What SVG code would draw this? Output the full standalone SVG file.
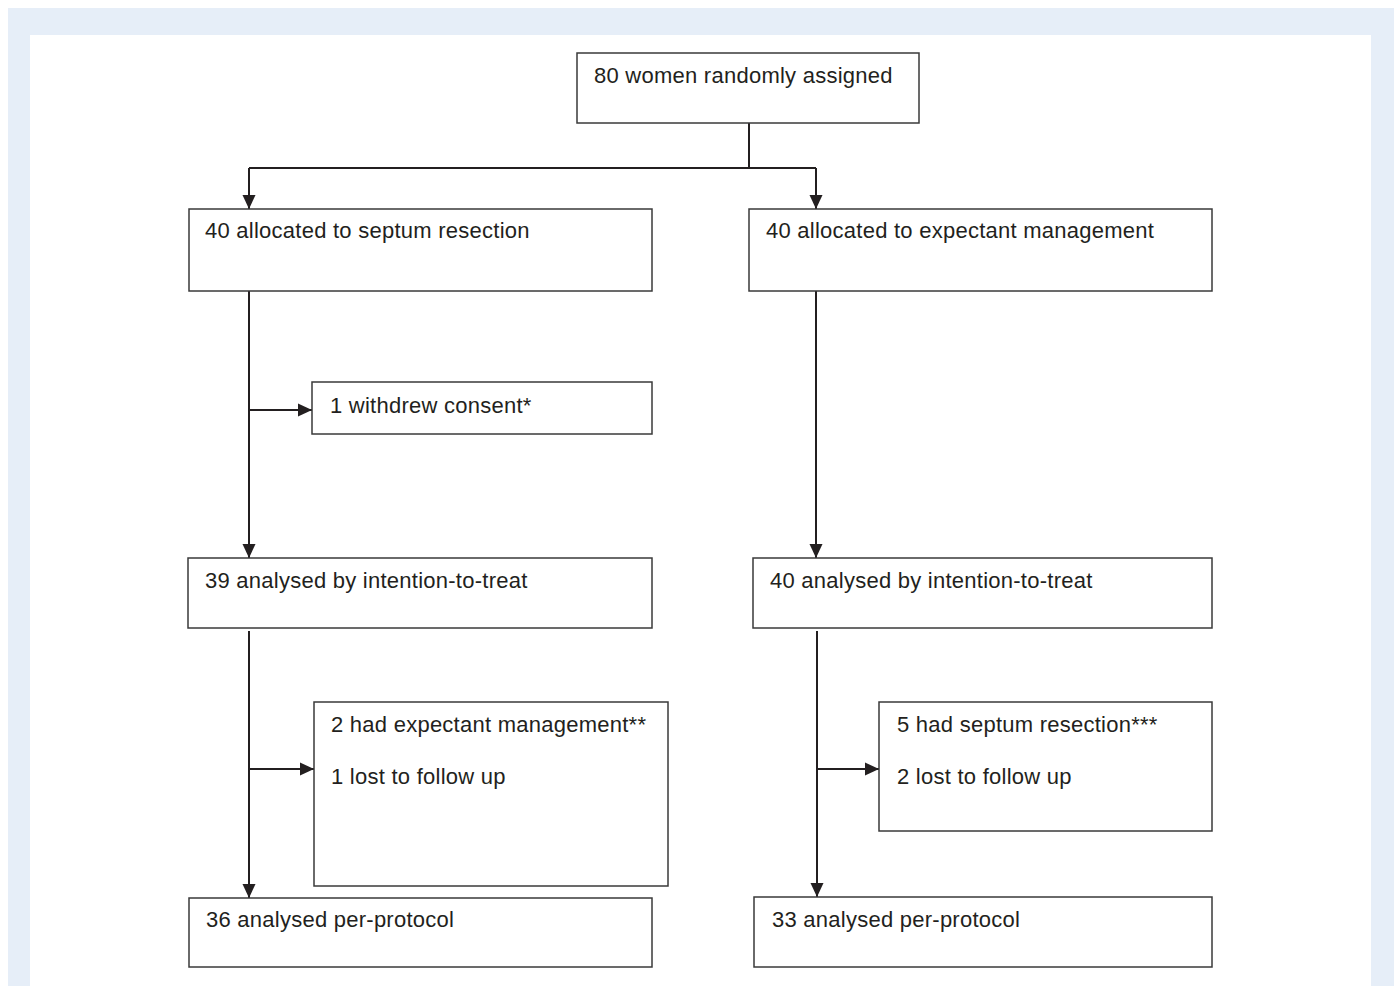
<svg xmlns="http://www.w3.org/2000/svg" width="1394" height="986" viewBox="0 0 1394 986">
<style>
.box{fill:#fff;stroke:#3a3a3a;stroke-width:1.5}
.t{font-family:"Liberation Sans",Arial,sans-serif;font-size:22px;letter-spacing:0.25px;fill:#231f20}
.c{fill:none;stroke:#231f20;stroke-width:2}
</style>
<defs>
<marker id="ah" viewBox="0 0 14 14" refX="14" refY="7" markerWidth="14" markerHeight="14" markerUnits="userSpaceOnUse" orient="auto">
<path d="M0,0.5 L14,7 L0,13.5 Z" fill="#231f20"/>
</marker>
</defs>
<rect x="8" y="8" width="1386" height="978" fill="#e6eef8"/>
<rect x="30" y="35" width="1341" height="951" fill="#fff"/>
<g id="connectors">
<path class="c" d="M749,123 V168"/>
<path class="c" d="M249,168 H816"/>
<path class="c" d="M249,168 V209" marker-end="url(#ah)"/>
<path class="c" d="M816,168 V209" marker-end="url(#ah)"/>
<path class="c" d="M249,291 V558" marker-end="url(#ah)"/>
<path class="c" d="M249,410 H312" marker-end="url(#ah)"/>
<path class="c" d="M816,291 V558" marker-end="url(#ah)"/>
<path class="c" d="M249,631 V898" marker-end="url(#ah)"/>
<path class="c" d="M249,769 H314" marker-end="url(#ah)"/>
<path class="c" d="M817,631 V897" marker-end="url(#ah)"/>
<path class="c" d="M817,769 H879" marker-end="url(#ah)"/>
</g>
<g id="n-random"><rect class="box" x="577" y="53" width="342" height="70"/><text class="t" x="594" y="83">80 women randomly assigned</text></g>
<g id="n-alloc-septum"><rect class="box" x="189" y="209" width="463" height="82"/><text class="t" x="205" y="238">40 allocated to septum resection</text></g>
<g id="n-alloc-expectant"><rect class="box" x="749" y="209" width="463" height="82"/><text class="t" x="766" y="238">40 allocated to expectant management</text></g>
<g id="n-withdrew"><rect class="box" x="312" y="382" width="340" height="52"/><text class="t" x="330" y="413">1 withdrew consent*</text></g>
<g id="n-itt-left"><rect class="box" x="188" y="558" width="464" height="70"/><text class="t" x="205" y="588">39 analysed by intention-to-treat</text></g>
<g id="n-itt-right"><rect class="box" x="753" y="558" width="459" height="70"/><text class="t" x="770" y="588">40 analysed by intention-to-treat</text></g>
<g id="n-excl-left"><rect class="box" x="314" y="702" width="354" height="184"/><text class="t" x="331" y="732">2 had expectant management**</text><text class="t" x="331" y="784">1 lost to follow up</text></g>
<g id="n-excl-right"><rect class="box" x="879" y="702" width="333" height="129"/><text class="t" x="897" y="732">5 had septum resection***</text><text class="t" x="897" y="784">2 lost to follow up</text></g>
<g id="n-pp-left"><rect class="box" x="189" y="898" width="463" height="69"/><text class="t" x="206" y="927">36 analysed per-protocol</text></g>
<g id="n-pp-right"><rect class="box" x="754" y="897" width="458" height="70"/><text class="t" x="772" y="927">33 analysed per-protocol</text></g>
</svg>
